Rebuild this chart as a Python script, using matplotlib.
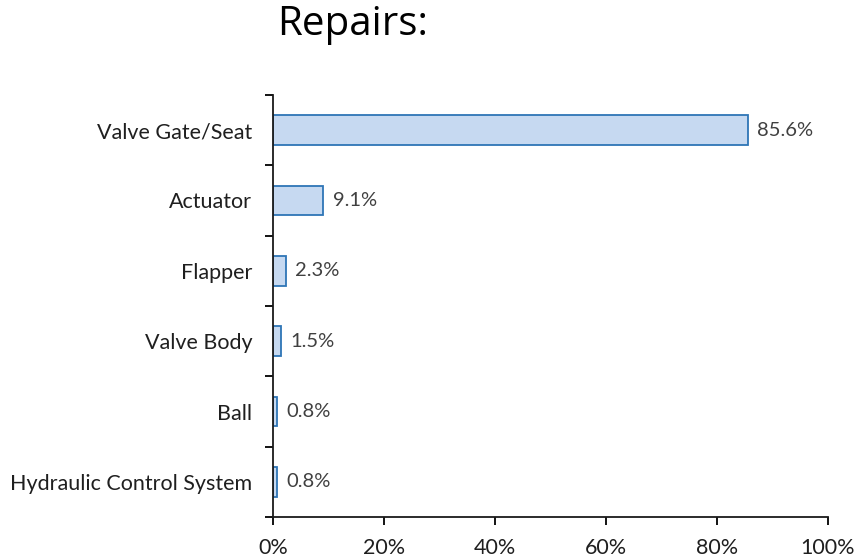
import numpy as np
from matplotlib import pyplot as plt
from matplotlib.ticker import FixedLocator, PercentFormatter

categories = [
    "Valve Gate/Seat",
    "Actuator",
    "Flapper",
    "Valve Body",
    "Ball",
    "Hydraulic Control System",
]
shares = [85.6, 9.1, 2.3, 1.5, 0.8, 0.8]
x_ticks = [0, 20, 40, 60, 80, 100]

fig = plt.figure(figsize=(8.59, 5.59), dpi=100)
ax = fig.add_axes([0.3178, 0.0751, 0.646, 0.755])

pos = np.arange(len(categories))
ax.barh(pos, shares, height=0.42, color="#c6d9f1", edgecolor="#2e75b6",
        linewidth=1.3)

# value labels to the right of each bar
for y, v in zip(pos, shares):
    ax.text(v + 1.7, y, f"{v}%", va="center", ha="left", fontsize=14.5,
            color="#404040", family="Lato")

ax.set_ylim(len(categories) - 0.5, -0.5)
ax.set_xlim(0, 100)
ax.set_yticks(pos)
ax.set_yticklabels(categories, fontsize=15.5, color="#1f1f1f", family="Lato")
ax.yaxis.set_minor_locator(FixedLocator(np.arange(-0.5, len(categories), 1)))
ax.tick_params(axis="y", which="major", length=0, pad=15)
ax.tick_params(axis="y", which="minor", length=6, width=1.3, direction="out")

ax.set_xticks(x_ticks)
ax.xaxis.set_major_formatter(PercentFormatter(decimals=0))
ax.tick_params(axis="x", length=6, width=1.3, labelsize=15.5, pad=9,
               labelcolor="#1f1f1f")
for lbl in ax.get_xticklabels():
    lbl.set_family("Lato")

for s in ["top", "right"]:
    ax.spines[s].set_visible(False)
for s in ["left", "bottom"]:
    ax.spines[s].set_linewidth(1.3)
    ax.spines[s].set_color("#1a1a1a")

fig.text(0.411, 0.955, "Repairs:", ha="center", va="center", fontsize=29,
         family="Open Sans", color="black")

plt.savefig("out.png", dpi=100)
plt.close()
